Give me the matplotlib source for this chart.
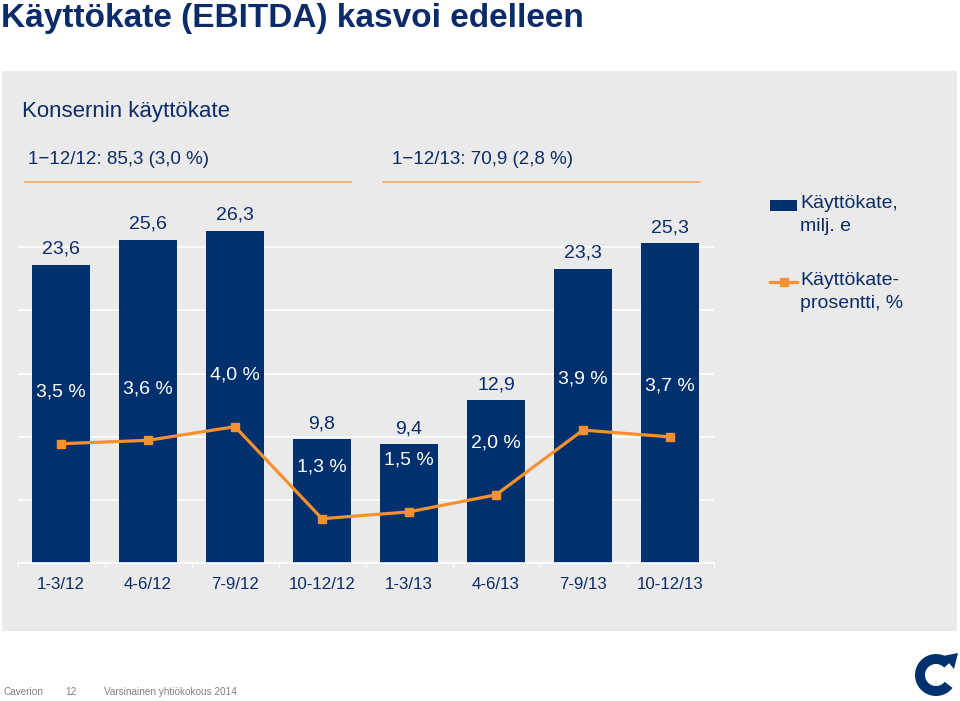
import matplotlib
matplotlib.use("Agg")
import matplotlib.pyplot as plt
from matplotlib.patches import Rectangle, Wedge, Polygon
from matplotlib.lines import Line2D

plt.rcParams['font.family'] = ['Liberation Sans', 'DejaVu Sans']

# data
quarters = ['1-3/12', '4-6/12', '7-9/12', '10-12/12', '1-3/13', '4-6/13', '7-9/13', '10-12/13']
ebitda = [23.6, 25.6, 26.3, 9.8, 9.4, 12.9, 23.3, 25.3]
ebitda_pct = [3.5, 3.6, 4.0, 1.3, 1.5, 2.0, 3.9, 3.7]
summary_12 = '1\u221212/12: 85,3 (3,0 %)'
summary_13 = '1\u221212/13: 70,9 (2,8 %)'

NAVY = '#00306e'
TEXT = '#0b2c69'
ORANGE = '#f5922f'
PANEL = '#eaeaea'

W, H = 960, 701
fig = plt.figure(figsize=(W / 100, H / 100), dpi=100)

def fx(px):
    return px / W

def fy(py):
    return 1 - py / H

# grey panel behind chart
fig.add_artist(Rectangle((fx(2), fy(631)), fx(955), 560 / H, transform=fig.transFigure,
                         facecolor=PANEL, edgecolor='none', zorder=0))

fig.text(fx(1), fy(18), 'Käyttökate (EBITDA) kasvoi edelleen', fontsize=24, fontweight='bold',
         color=TEXT, va='center', ha='left')
fig.text(fx(22), fy(111), 'Konsernin käyttökate', fontsize=16, color=TEXT, va='center')
fig.text(fx(28), fy(160), summary_12, fontsize=13.5, color=TEXT, va='center')
fig.text(fx(392), fy(160), summary_13, fontsize=13.5, color=TEXT, va='center')
fig.add_artist(Line2D([fx(25), fx(351)], [fy(182), fy(182)], color='#f4a862', lw=1.2))
fig.add_artist(Line2D([fx(383), fx(700)], [fy(182), fy(182)], color='#f4a862', lw=1.2))

# chart axes
ax = fig.add_axes([fx(17.5), fy(563), 696 / W, 379 / H])
ax.set_facecolor('none')
x = list(range(len(quarters)))
ax.bar(x, ebitda, width=0.67, color=NAVY, zorder=2)
ax.set_xlim(-0.5, len(quarters) - 0.5)
ymax = 30
ax.set_ylim(0, ymax)
ax.set_yticks([5, 10, 15, 20, 25])
ax.yaxis.grid(True, color='white', lw=1.1)
ax.set_axisbelow(True)
ax.tick_params(axis='y', length=0, labelleft=False)
ax.set_xticks(x)
ax.set_xticklabels(quarters, fontsize=12.2, color=TEXT)
ax.set_xticks([i - 0.5 for i in range(len(quarters) + 1)], minor=True)
ax.tick_params(axis='x', which='major', length=0, pad=10)
ax.tick_params(axis='x', which='minor', length=4, color='white', direction='out')
for s in ['top', 'left', 'right']:
    ax.spines[s].set_visible(False)
ax.spines['bottom'].set_color('white')
ax.spines['bottom'].set_linewidth(1.2)

for xi, v in zip(x, ebitda):
    ax.annotate(f'{v:.1f}'.replace('.', ','), (xi, v), xytext=(0, 5), textcoords='offset points',
                ha='center', va='bottom', fontsize=14, color=TEXT)

ax2 = ax.twinx()
ax2.set_ylim(0, ymax * 12.63 / 34.07)
ax2.plot(x, ebitda_pct, color=ORANGE, lw=2.3, marker='s', markersize=5.5, zorder=3)
ax2.axis('off')
for xi, v in zip(x, ebitda_pct):
    ax2.annotate(f'{v:.1f} %'.replace('.', ','), (xi, v), xytext=(0, 37), textcoords='offset points',
                 ha='center', va='center', fontsize=14, color='white')

# legend
fig.add_artist(Rectangle((fx(770), fy(211)), fx(27), 11 / H, transform=fig.transFigure,
                         facecolor=NAVY, edgecolor='none'))
fig.text(fx(800), fy(195), 'Käyttökate,\nmilj. e', fontsize=14, color=TEXT, va='top',
         linespacing=1.45)
fig.add_artist(Line2D([fx(770), fx(797)], [fy(282), fy(282)], color=ORANGE, lw=2.3))
fig.add_artist(Line2D([fx(783.5)], [fy(282)], color=ORANGE, marker='s', markersize=5.5))
fig.text(fx(800), fy(272), 'Käyttökate-\nprosentti, %', fontsize=14, color=TEXT, va='top',
         linespacing=1.45)

# footer
foot = ['Liberation Sans Narrow', 'Liberation Sans', 'DejaVu Sans']
fig.text(fx(3), fy(692), 'Caverion', fontsize=7.2, color='#808080', va='center', family=foot)
fig.text(fx(65), fy(692), '12', fontsize=7.2, color='#808080', va='center', family=foot)
fig.text(fx(104), fy(692), 'Varsinainen yhtiökokous 2014', fontsize=7.2, color='#808080',
         va='center', family=foot)

# logo
lax = fig.add_axes([fx(912), fy(700), fx(48), 52 / H])
lax.set_xlim(0, 48)
lax.set_ylim(0, 52)
lax.axis('off')
lax.add_patch(Wedge((24, 25), 21, 42, 322, width=10, facecolor=NAVY, edgecolor='none'))
lax.add_patch(Polygon([[31, 44], [46, 47], [42, 31]], closed=True, facecolor=NAVY, edgecolor='none'))

fig.savefig('out.png', dpi=100)
